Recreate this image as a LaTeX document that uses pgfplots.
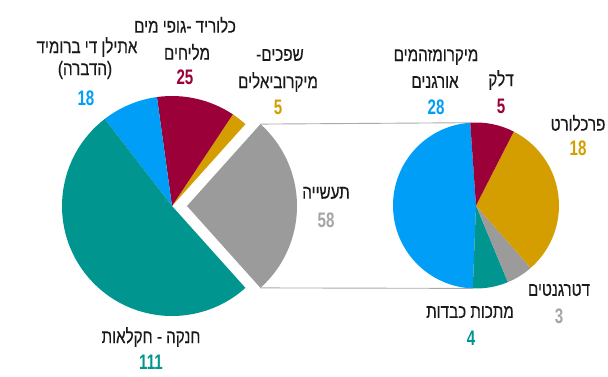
\documentclass[border=0pt]{standalone}
\usepackage{pgfplots}
\usepackage{pgfplotstable}
\pgfplotsset{compat=1.18}
\usepackage{fontspec}
\setmainfont{Liberation Sans}
\newfontfamily\heb[Script=Hebrew,FakeStretch=0.78,FakeBold=0.35]{Liberation Sans}
\newfontfamily\numf[FakeStretch=0.72]{Liberation Sans}
\TeXXeTstate=1
\definecolor{tealc}{RGB}{0,150,143}
\definecolor{bluec}{RGB}{0,158,247}
\definecolor{redc}{RGB}{155,0,56}
\definecolor{goldc}{RGB}{212,158,0}
\definecolor{grayc}{RGB}{155,155,155}
\definecolor{numgray}{RGB}{165,165,165}
\definecolor{txt}{RGB}{25,25,25}
\definecolor{linec}{RGB}{170,170,170}

% left pie: total by category
\pgfplotstableread[col sep=comma]{
value,color,explode
58,grayc,15
5,goldc,0
25,redc,0
18,bluec,0
111,tealc,0
}\leftpie
% right pie: breakdown of industry (58)
\pgfplotstableread[col sep=comma]{
value,color,explode
28,bluec,0
4,tealc,0
3,grayc,0
18,goldc,0
5,redc,0
}\rightpie

\newcommand\drawpie[5]{%
  \def\sltotal{0}%
  \pgfplotsforeachungrouped \i in {0,...,4}{%
    \pgfplotstablegetelem{\i}{value}\of{#1}%
    \pgfmathsetmacro\sltotal{\sltotal+\pgfplotsretval}%
  }%
  \def\slstart{#5}%
  \pgfplotsforeachungrouped \i in {0,...,4}{%
    \pgfplotstablegetelem{\i}{value}\of{#1}\let\slval=\pgfplotsretval
    \pgfplotstablegetelem{\i}{color}\of{#1}\let\slcol=\pgfplotsretval
    \pgfplotstablegetelem{\i}{explode}\of{#1}\let\slex=\pgfplotsretval
    \pgfmathsetmacro\sldelta{\slval/\sltotal*360}%
    \pgfmathsetmacro\slmid{\slstart+\sldelta/2}%
    \pgfmathsetmacro\slox{#2+\slex*cos(\slmid)}%
    \pgfmathsetmacro\sloy{#3+\slex*sin(\slmid)}%
    \edef\sltemp{\noexpand\fill[\slcol] (axis cs:\slox,\sloy) -- ++(\slstart:#4pt) arc[start angle=\slstart, delta angle=\sldelta, radius=#4pt] -- cycle;}%
    \sltemp
    \pgfmathsetmacro\slstart{\slstart+\sldelta}%
  }%
}

\newcommand\hl[3]{\node[font=\heb\fontsize{19.5}{22}\selectfont,text=txt,inner sep=0pt] at (axis cs:#1,{376-#2}) {#3};}
\newcommand\nl[4]{\node[font=\numf\bfseries\fontsize{21}{22}\selectfont,text=#4,inner sep=0pt] at (axis cs:#1,{376-#2}) {#3};}

\begin{document}
\begin{tikzpicture}
\begin{axis}[x=1pt,y=1pt,xmin=0,xmax=608,ymin=0,ymax=376,
  hide axis,clip=false,scale only axis,anchor=south west,at={(0,0)}]
\drawpie{\leftpie}{172}{170}{110}{-48.11}
\drawpie{\rightpie}{476}{170.5}{83}{94}
\addplot[linec,line width=0.9pt] coordinates {(260.4,251.9) (470.2,253.3)};
\addplot[linec,line width=0.9pt] coordinates {(260.4,88.1) (473.1,87.6)};
% left labels
\hl{87}{47}{\beginR אתילן די ברומיד\endR}
\hl{85}{70}{\beginR (הדברה)\endR}
\nl{86}{98}{18}{bluec}
\hl{185}{25}{\beginR כלוריד -גופי מים\endR}
\hl{187}{52}{\beginR מליחים\endR}
\nl{185}{77}{25}{redc}
\hl{280}{55}{\beginR שפכים-\endR}
\hl{278}{82}{\beginR מיקרוביאלים\endR}
\nl{278}{107}{5}{goldc}
\hl{326}{193}{\beginR תעשייה\endR}
\nl{326}{220}{58}{numgray}
\hl{151}{337}{\beginR חנקה - חקלאות\endR}
\nl{151}{362}{111}{tealc}
% right labels
\hl{436}{57}{\beginR מיקרומזהמים\endR}
\hl{435}{82}{\beginR אורגנים\endR}
\nl{436}{107}{28}{bluec}
\hl{501}{80}{\beginR דלק\endR}
\nl{501}{106}{5}{redc}
\hl{578}{123}{\beginR פרכלורט\endR}
\nl{578}{148}{18}{goldc}
\hl{559}{290}{\beginR דטרגנטים\endR}
\nl{559}{316}{3}{numgray}
\hl{470}{312}{\beginR מתכות כבדות\endR}
\nl{471}{338}{4}{tealc}
\end{axis}
\pgfresetboundingbox
\path[use as bounding box] (0,0) rectangle (608pt,376pt);
\end{tikzpicture}
\end{document}
